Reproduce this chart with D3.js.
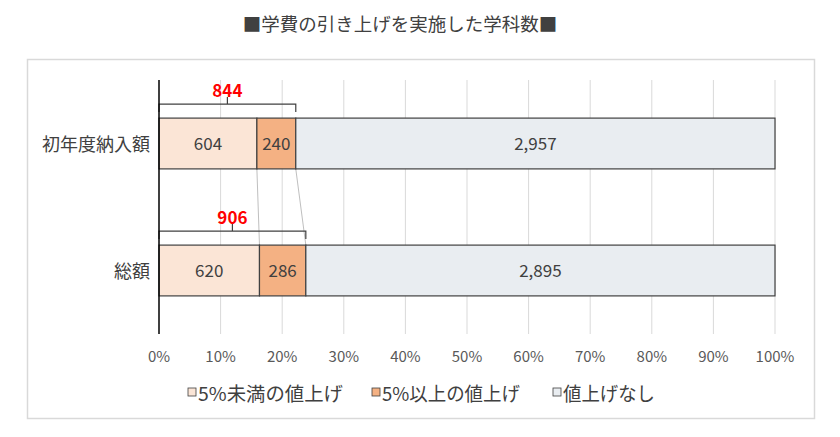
<!DOCTYPE html>
<html>
<head>
<meta charset="utf-8">
<script src="https://cdn.jsdelivr.net/npm/d3@7"></script>
<style>
  body { margin: 0; background: #fff; }
  svg { font-family: "Noto Sans CJK JP", "Noto Sans", sans-serif; }
</style>
</head>
<body>
<svg id="chart"></svg>
<script>
// data
const categories = ["初年度納入額", "総額"];
const seriesNames = ["5%未満の値上げ", "5%以上の値上げ", "値上げなし"];
const under5 = [604, 620];
const over5 = [240, 286];
const noRaise = [2957, 2895];
const raisedTotal = [844, 906];
const tickLabels = ["0%", "10%", "20%", "30%", "40%", "50%", "60%", "70%", "80%", "90%", "100%"];

const colors = ["#fbe5d6", "#f4b183", "#e9edf1"];

const W = 840, H = 437;
const margin = { top: 80, right: 65, bottom: 103, left: 159 },
    width = W - margin.left - margin.right,
    height = H - margin.top - margin.bottom;

const root = d3.select("#chart").attr("width", W).attr("height", H);

// outer frame
root.append("rect")
    .attr("x", 27.5).attr("y", 59.5)
    .attr("width", 787).attr("height", 359)
    .attr("fill", "#fff").attr("stroke", "#d9d9d9").attr("stroke-width", 1.5);

// title
root.append("text")
    .attr("x", 400).attr("y", 31)
    .attr("text-anchor", "middle")
    .style("font-size", "18.5px")
    .attr("fill", "#404040")
    .text("■学費の引き上げを実施した学科数■");

const svg = root.append("g")
    .attr("transform", `translate(${margin.left}, ${margin.top})`);

// stacked rows
const rows = categories.map((c, i) => {
    const total = under5[i] + over5[i] + noRaise[i];
    const vals = [under5[i], over5[i], noRaise[i]];
    let acc = 0;
    const segs = vals.map((v, k) => {
        const s = { k: k, v: v, x0: acc / total, x1: (acc + v) / total };
        acc += v;
        return s;
    });
    return { cat: c, segs: segs, total: total, raised: raisedTotal[i] };
});

const x = d3.scaleLinear().domain([0, 1]).range([0, width]);
const y = d3.scaleBand()
    .domain(categories)
    .range([0, height])
    .paddingInner(0.6)
    .paddingOuter(0.3);

// gridlines
svg.append("g")
    .selectAll("line")
    .data(d3.range(1, 11).map(d => d / 10))
    .enter()
    .append("line")
    .attr("x1", d => x(d)).attr("x2", d => x(d))
    .attr("y1", 0).attr("y2", height)
    .attr("stroke", "#d9d9d9").attr("stroke-width", 1);

// x tick labels
svg.append("g")
    .selectAll("text")
    .data(tickLabels)
    .enter()
    .append("text")
    .attr("x", (d, i) => x(i / 10))
    .attr("y", height + 28)
    .attr("text-anchor", "middle")
    .style("font-size", "15px")
    .attr("fill", "#595959")
    .text(d => d);

// series lines between bars
const bw = y.bandwidth();
[0, 1].forEach(k => {
    svg.append("line")
        .attr("x1", x(rows[0].segs[k].x1))
        .attr("y1", y(categories[0]) + bw)
        .attr("x2", x(rows[1].segs[k].x1))
        .attr("y2", y(categories[1]))
        .attr("stroke", "#bfbfbf").attr("stroke-width", 1);
});

// bars
const row = svg.selectAll(".row")
    .data(rows)
    .enter()
    .append("g")
    .attr("class", "row")
    .attr("transform", d => `translate(0, ${y(d.cat)})`);

row.selectAll("rect")
    .data(d => d.segs)
    .enter()
    .append("rect")
    .attr("x", d => x(d.x0))
    .attr("y", 0)
    .attr("width", d => x(d.x1) - x(d.x0))
    .attr("height", bw)
    .attr("fill", d => colors[d.k])
    .attr("stroke", "#404040")
    .attr("stroke-width", 1.2);

row.selectAll(".val")
    .data(d => d.segs)
    .enter()
    .append("text")
    .attr("class", "val")
    .attr("x", d => (x(d.x0) + x(d.x1)) / 2)
    .attr("y", bw / 2 + 6.5)
    .attr("text-anchor", "middle")
    .style("font-size", "17px")
    .attr("fill", "#404040")
    .text(d => d3.format(",")(d.v));

// brackets for raised totals
row.each(function (d) {
    const g = d3.select(this);
    const xe = x(d.segs[1].x1);
    const by = -14;
    const xm = xe / 2;
    g.append("path")
        .attr("d", `M0,${by + 8} V${by} H${xe} V${by + 8} M${xm},${by} V${by - 7}`)
        .attr("fill", "none")
        .attr("stroke", "#404040")
        .attr("stroke-width", 1.2);
    g.append("text")
        .attr("x", xm)
        .attr("y", by - 7)
        .attr("text-anchor", "middle")
        .style("font-size", "17px")
        .style("font-weight", "bold")
        .attr("fill", "#ff0000")
        .text(d.raised);
});

// category labels
svg.selectAll(".cat")
    .data(categories)
    .enter()
    .append("text")
    .attr("x", -9)
    .attr("y", d => y(d) + bw / 2 + 7.5)
    .attr("text-anchor", "end")
    .style("font-size", "18px")
    .attr("fill", "#404040")
    .text(d => d);

// y axis line
svg.append("line")
    .attr("x1", 0).attr("x2", 0)
    .attr("y1", 0).attr("y2", height)
    .attr("stroke", "#000").attr("stroke-width", 1.5);

// legend
const legendX = [188, 372, 553];
const legendLen = [145, 138, 92];
const legend = root.append("g")
    .selectAll("g")
    .data(seriesNames)
    .enter()
    .append("g")
    .attr("transform", (d, i) => `translate(${legendX[i]}, 392)`);

legend.append("rect")
    .attr("x", 0).attr("y", -4)
    .attr("width", 8).attr("height", 8)
    .attr("fill", (d, i) => colors[i])
    .attr("stroke", "#404040").attr("stroke-width", 0.8);

legend.append("text")
    .attr("x", 10).attr("y", 9)
    .attr("textLength", (d, i) => legendLen[i])
    .attr("lengthAdjust", "spacingAndGlyphs")
    .style("font-size", "19px")
    .attr("fill", "#404040")
    .text(d => d);
</script>
</body>
</html>
